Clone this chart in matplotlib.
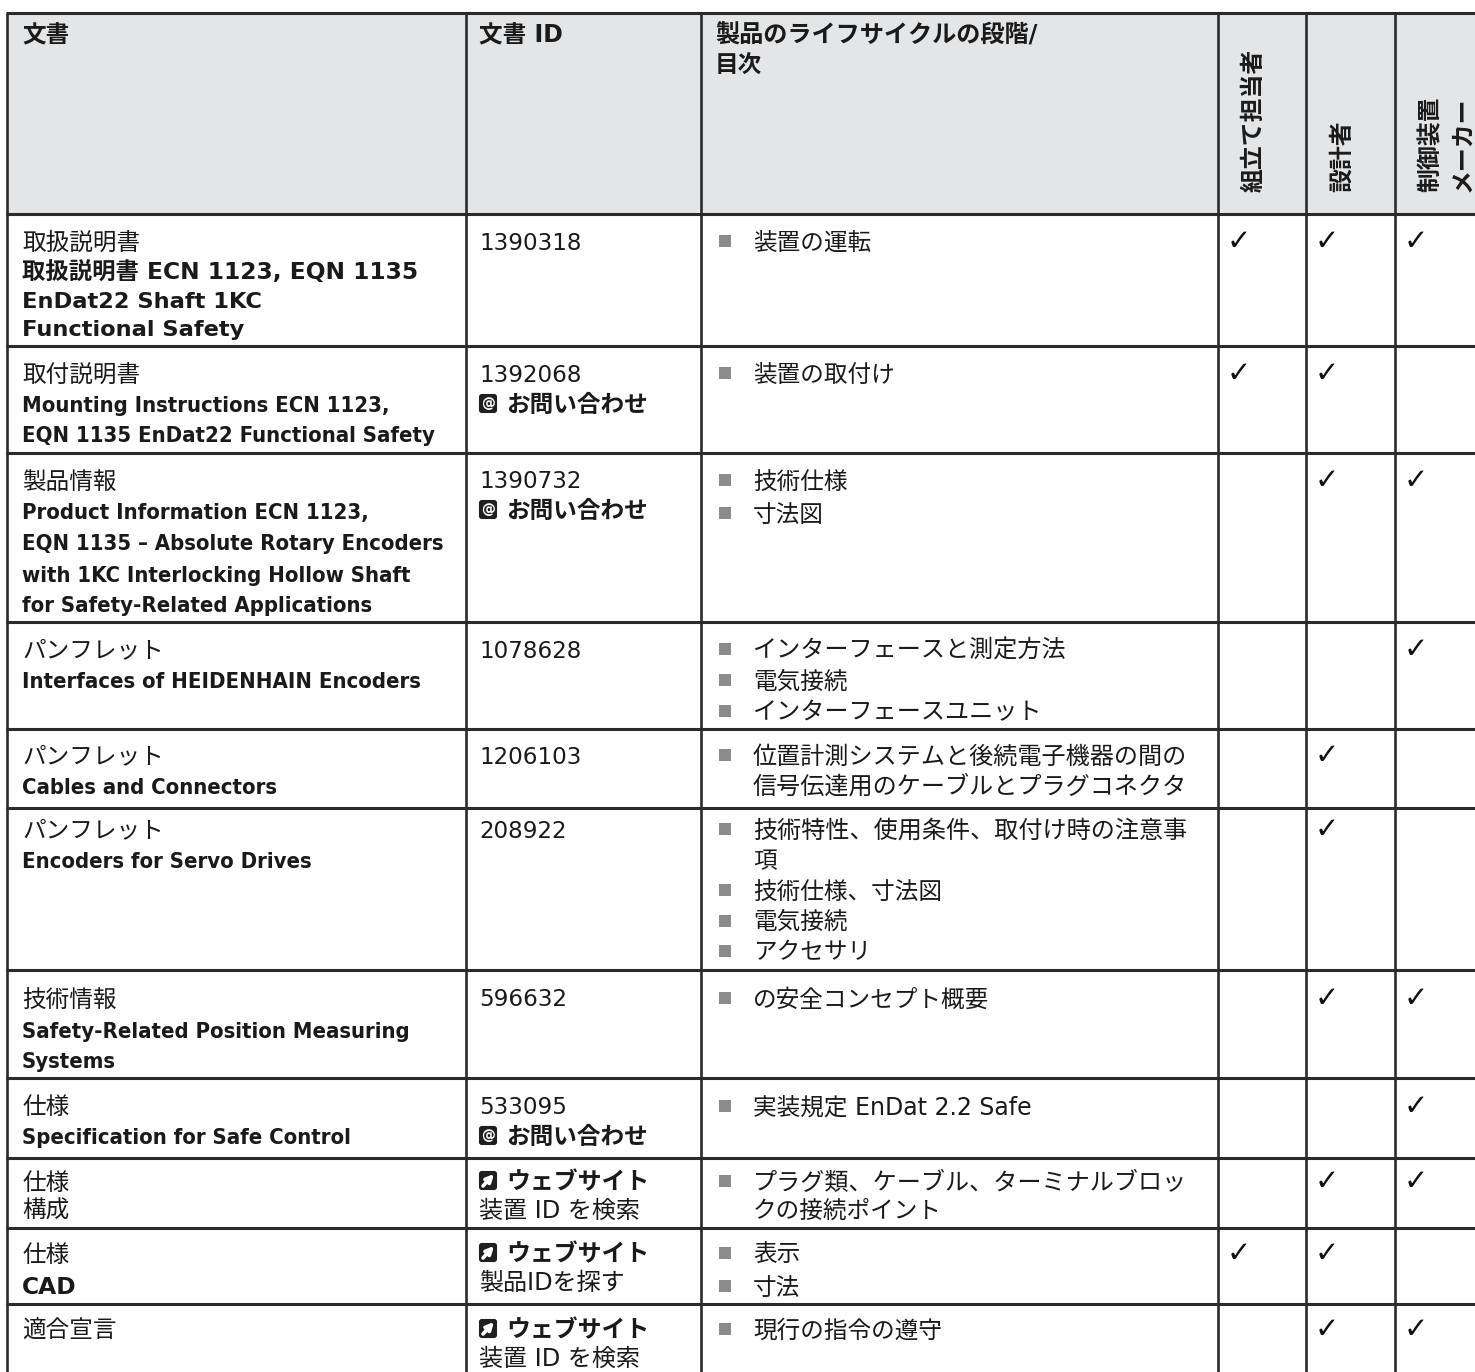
import matplotlib
matplotlib.use("Agg")
import matplotlib.pyplot as plt
from matplotlib.patches import FancyBboxPatch, Rectangle

# table content
headers = ["文書", "文書 ID", "製品のライフサイクルの段階/\n目次"]
role_headers = ["組立て担当者", "設計者", "制御装置\nメーカー"]

doc_types = [
    "取扱説明書", "取付説明書", "製品情報", "パンフレット", "パンフレット", "パンフレット",
    "技術情報", "仕様", "仕様", "仕様", "適合宣言",
]
doc_names = [
    ["取扱説明書 ECN 1123, EQN 1135", "EnDat22 Shaft 1KC", "Functional Safety"],
    ["Mounting Instructions ECN 1123,", "EQN 1135 EnDat22 Functional Safety"],
    ["Product Information ECN 1123,", "EQN 1135 – Absolute Rotary Encoders",
     "with 1KC Interlocking Hollow Shaft", "for Safety-Related Applications"],
    ["Interfaces of HEIDENHAIN Encoders"],
    ["Cables and Connectors"],
    ["Encoders for Servo Drives"],
    ["Safety-Related Position Measuring", "Systems"],
    ["Specification for Safe Control"],
    [],
    ["CAD"],
    [],
]
doc_plain = ["", "", "", "", "", "", "", "", "構成", "", ""]
wide_bold_rows = [0, 9]

doc_ids = ["1390318", "1392068", "1390732", "1078628", "1206103", "208922",
           "596632", "533095", "", "", ""]
contact_rows = [1, 2, 7]
website_notes = {8: "装置 ID を検索", 9: "製品IDを探す", 10: "装置 ID を検索"}
contact_label = "お問い合わせ"
website_label = "ウェブサイト"

contents = [
    ["装置の運転"],
    ["装置の取付け"],
    ["技術仕様", "寸法図"],
    ["インターフェースと測定方法", "電気接続", "インターフェースユニット"],
    ["位置計測システムと後続電子機器の間の\n信号伝達用のケーブルとプラグコネクタ"],
    ["技術特性、使用条件、取付け時の注意事\n項", "技術仕様、寸法図", "電気接続", "アクセサリ"],
    ["の安全コンセプト概要"],
    ["実装規定 EnDat 2.2 Safe"],
    ["プラグ類、ケーブル、ターミナルブロッ\nクの接続ポイント"],
    ["表示", "寸法"],
    ["現行の指令の遵守"],
]

assembler = [1, 1, 0, 0, 0, 0, 0, 0, 0, 1, 0]
designer = [1, 1, 1, 0, 1, 1, 1, 0, 1, 1, 1]
maker = [1, 0, 1, 1, 0, 0, 1, 1, 1, 0, 1]

# layout in pixels
W, H = 1475, 1372
col_x = [7, 466, 701, 1218, 1306, 1395]
row_y = [13, 214, 346, 453, 622, 729, 808, 970, 1078, 1158, 1228, 1304]
first_line = [241, 373, 480, 649, 755, 829, 998, 1106, 1181, 1253, 1329]
head_x = [22, 479, 715]
doc_pitch = [29, 30, 31, 30, 30, 30, 31, 29, 28, 33, 28]
id_pitch = [29, 30, 29, 30, 30, 30, 30, 29, 28, 28, 28]
item_pitch = [30, 30, 33, 31, 30, 30.5, 30, 30, 28, 33, 30]

TEXT_COLOR = "#1a1a1a"
LINE_COLOR = "#2b2b2b"
HEAD_FILL = "#e4e5e7"
BULLET_COLOR = "#8c8c8c"
CJK = "Noto Sans CJK JP"
SIZE = 17

fig = plt.figure(figsize=(W / 100, H / 100), dpi=100)
ax = fig.add_axes([0, 0, 1, 1])
ax.set_xlim(0, W)
ax.set_ylim(H, 0)
ax.axis("off")


def put(x, y, s, bold=False, narrow=False, size=SIZE):
    """Write one line centred on pixel row y."""
    ax.text(x, y + 8.5, s, fontsize=size, family=["DejaVu Sans", CJK], color=TEXT_COLOR,
            weight="bold" if bold else "normal", stretch="condensed" if narrow else "normal",
            ha="left", va="baseline")


def icon(x, y, kind):
    """Small dark link badge in front of a bold label."""
    ax.add_patch(FancyBboxPatch((x + 1, y - 8), 16, 17, boxstyle="round,pad=0,rounding_size=2",
                                fc="#1f1f1f", ec="#1f1f1f", lw=1.5))
    if kind == "at":
        ax.text(x + 9, y + 0.5, "@", fontsize=10, color="white", weight="bold",
                ha="center", va="center")
    else:
        ax.annotate("", xy=(x + 15, y - 6), xytext=(x + 4, y + 6),
                    arrowprops=dict(arrowstyle="-|>", color="white", lw=2.6,
                                    mutation_scale=11, shrinkA=0, shrinkB=0))


# header background
ax.add_patch(Rectangle((col_x[0], row_y[0]), W - col_x[0], row_y[1] - row_y[0],
                       fc=HEAD_FILL, ec="none"))

# grid
for y in row_y:
    ax.plot([col_x[0] - 1, W], [y, y], color=LINE_COLOR, lw=2.2, solid_capstyle="butt")
for x in col_x:
    ax.plot([x, x], [row_y[0], H], color=LINE_COLOR, lw=1.9, solid_capstyle="butt")

# header text
for i, head in enumerate(headers):
    for j, part in enumerate(head.split("\n")):
        put(head_x[i], 34 + j * 30, part, bold=True, size=17.4 if len(part) > 10 else SIZE)

ax.text(1254, 192, role_headers[0], rotation=90, fontsize=17.2, family=[CJK],
        weight="bold", color=TEXT_COLOR, ha="center", va="bottom")
ax.text(1342, 192, role_headers[1], rotation=90, fontsize=17.2, family=[CJK],
        weight="bold", color=TEXT_COLOR, ha="center", va="bottom")
for xc, part in zip([1431, 1462], role_headers[2].split("\n")):
    ax.text(xc, 192, part, rotation=90, fontsize=17.2, family=[CJK],
            weight="bold", color=TEXT_COLOR, ha="center", va="bottom")

# body rows
for r, y0 in enumerate(first_line):
    # document column
    dx = col_x[0] + 15
    put(dx, y0, doc_types[r])
    line = 1
    for name in doc_names[r]:
        if r in wide_bold_rows:
            put(dx, y0 + line * doc_pitch[r], name, bold=True, size=16.8 if line == 1 else 16.2)
        else:
            put(dx, y0 + line * doc_pitch[r], name, bold=True, narrow=True, size=15.8)
        line += 1
    if doc_plain[r]:
        put(dx, y0 + line * doc_pitch[r], doc_plain[r])

    # id column
    ix = col_x[1] + 13
    if doc_ids[r]:
        put(ix, y0, doc_ids[r], size=16.6)
        if r in contact_rows:
            icon(ix, y0 + id_pitch[r], "at")
            put(ix + 27, y0 + id_pitch[r], contact_label, bold=True)
    else:
        icon(ix, y0 - 1, "link")
        put(ix + 27, y0, website_label, bold=True, size=17.2)
        put(ix, y0 + id_pitch[r], website_notes[r], size=17.3)

    # contents column with square bullets
    line = 0
    for item in contents[r]:
        ax.plot([col_x[2] + 24], [y0 + line * item_pitch[r]], marker="s", ms=8.5, color=BULLET_COLOR,
                mew=0, ls="none")
        for part in item.split("\n"):
            long_cjk = len(part) >= 12 and " " not in part
            put(col_x[2] + 52, y0 + line * item_pitch[r], part, size=17.35 if long_cjk else SIZE)
            line += 1

    # role ticks
    for c, flags in enumerate([assembler, designer, maker]):
        if flags[r]:
            ax.text(col_x[3 + c] + 21, y0 + 1, "✓", fontsize=21, family=["DejaVu Sans"],
                    color="#111111", ha="center", va="center")

fig.savefig("out.png", dpi=100)
